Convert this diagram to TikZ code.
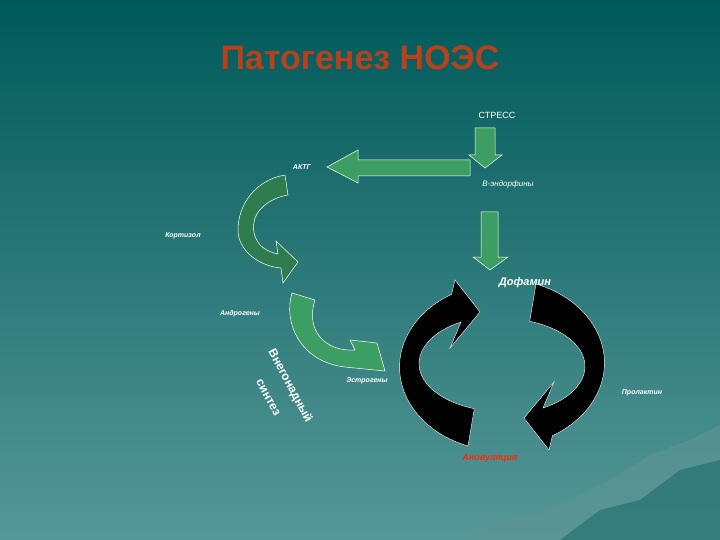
\documentclass[tikz,border=0pt]{standalone}
\usepackage{fontspec}
\setmainfont{Liberation Sans}
\definecolor{gA}{HTML}{3C9E62}
\definecolor{gB}{HTML}{2F7D4E}
\definecolor{ttl}{HTML}{B8401C}
\begin{document}
\begin{tikzpicture}[x=1pt,y=-1pt,
  lbl/.style={text=white,font=\bfseries\itshape\fontsize{7}{8}\selectfont,inner sep=1pt},
  garrow/.style={fill=gA,draw=white,line width=0.5pt},
  darrow/.style={fill=gB,draw=white,line width=0.5pt},
  barrow/.style={fill=black,draw=white,line width=0.4pt}]
\shade[top color=teal!70!black,bottom color=teal!60!white!85!black] (0,0) rectangle (720,540);
\useasboundingbox (0,0) rectangle (720,540);
% hills
\fill[teal!55!white!80!black,opacity=0.7] (470,540) -- (500,520) -- (540,515) -- (580,495) -- (610,480) -- (650,455) -- (690,440) -- (720,425) -- (720,540) -- cycle;
\fill[teal!70!black,opacity=0.4] (560,540) -- (600,510) -- (640,500) -- (680,470) -- (720,460) -- (720,540) -- cycle;
% title
\node (title) at (360,58) {\textcolor{ttl}{\bfseries\fontsize{34}{38}\selectfont Патогенез НОЭС}};
% straight arrows
\draw[garrow] (475,128) -- (495,128) -- (495,155) -- (502,155) -- (485,168) -- (469,155) -- (475,155) -- cycle;
\draw[garrow] (470,160) -- (470,176) -- (358,176) -- (358,183) -- (327,167) -- (358,150) -- (358,160) -- cycle;
\draw[garrow] (481,212) -- (498,212) -- (498,257) -- (508,257) -- (490,270) -- (473,257) -- (481,257) -- cycle;
% green curved arrows
\draw[darrow] (285,175) .. controls (255,180) and (238,205) .. (238,230) .. controls (238,250) and (258,266) .. (281,268) -- (283,283) -- (298,262) -- (276,241) -- (278,254) .. controls (258,250) and (250,235) .. (255,218) .. controls (260,205) and (275,197) .. (288,195) -- cycle;
\draw[garrow] (292,293) .. controls (283,322) and (300,362) .. (345,367) -- (385,371) -- (377,343) -- (350,340) -- (355,350) .. controls (325,352) and (305,330) .. (315,300) -- cycle;
% black circular arrows
\draw[barrow] (468,446) arc[start angle=110,end angle=240,x radius=104,y radius=84] -- (455,280) -- (480,312) -- (450,348) -- (461,322) arc[start angle=240,end angle=110,x radius=84,y radius=48] -- cycle;
\begin{scope}[rotate around={180:(502,365)}]
\draw[barrow] (468,446) arc[start angle=110,end angle=240,x radius=104,y radius=84] -- (455,280) -- (480,312) -- (450,348) -- (461,322) arc[start angle=240,end angle=110,x radius=84,y radius=48] -- cycle;
\end{scope}
% labels
\node[text=white,font=\fontsize{9}{10}\selectfont] (stress) at (497,115) {СТРЕСС};
\node[lbl] (aktg) at (302,167) {АКТГ};
\node[text=white,font=\itshape\fontsize{8}{9}\selectfont] (endo) at (508,184) {В-эндорфины};
\node[lbl] (kort) at (183,236) {Кортизол};
\node[lbl,font=\bfseries\itshape\fontsize{11}{12}\selectfont] (dof) at (525,283) {Дофамин};
\node[lbl] (andr) at (240,314) {Андрогены};
\node[lbl] (estr) at (367,381) {Эстрогены};
\node[lbl] (prol) at (642,393) {Пролактин};
\node[lbl,text=red!70!orange,font=\bfseries\itshape\fontsize{9}{10}\selectfont] (anov) at (490,458) {Ановуляция};
\node[text=white,font=\bfseries\fontsize{12}{13}\selectfont,rotate=-62,inner sep=0pt] (vneg) at (290,386) {Внегонадный};
\node[text=white,font=\bfseries\fontsize{12}{13}\selectfont,rotate=-62,inner sep=0pt] (sint) at (268,398) {синтез};
\end{tikzpicture}
\end{document}
